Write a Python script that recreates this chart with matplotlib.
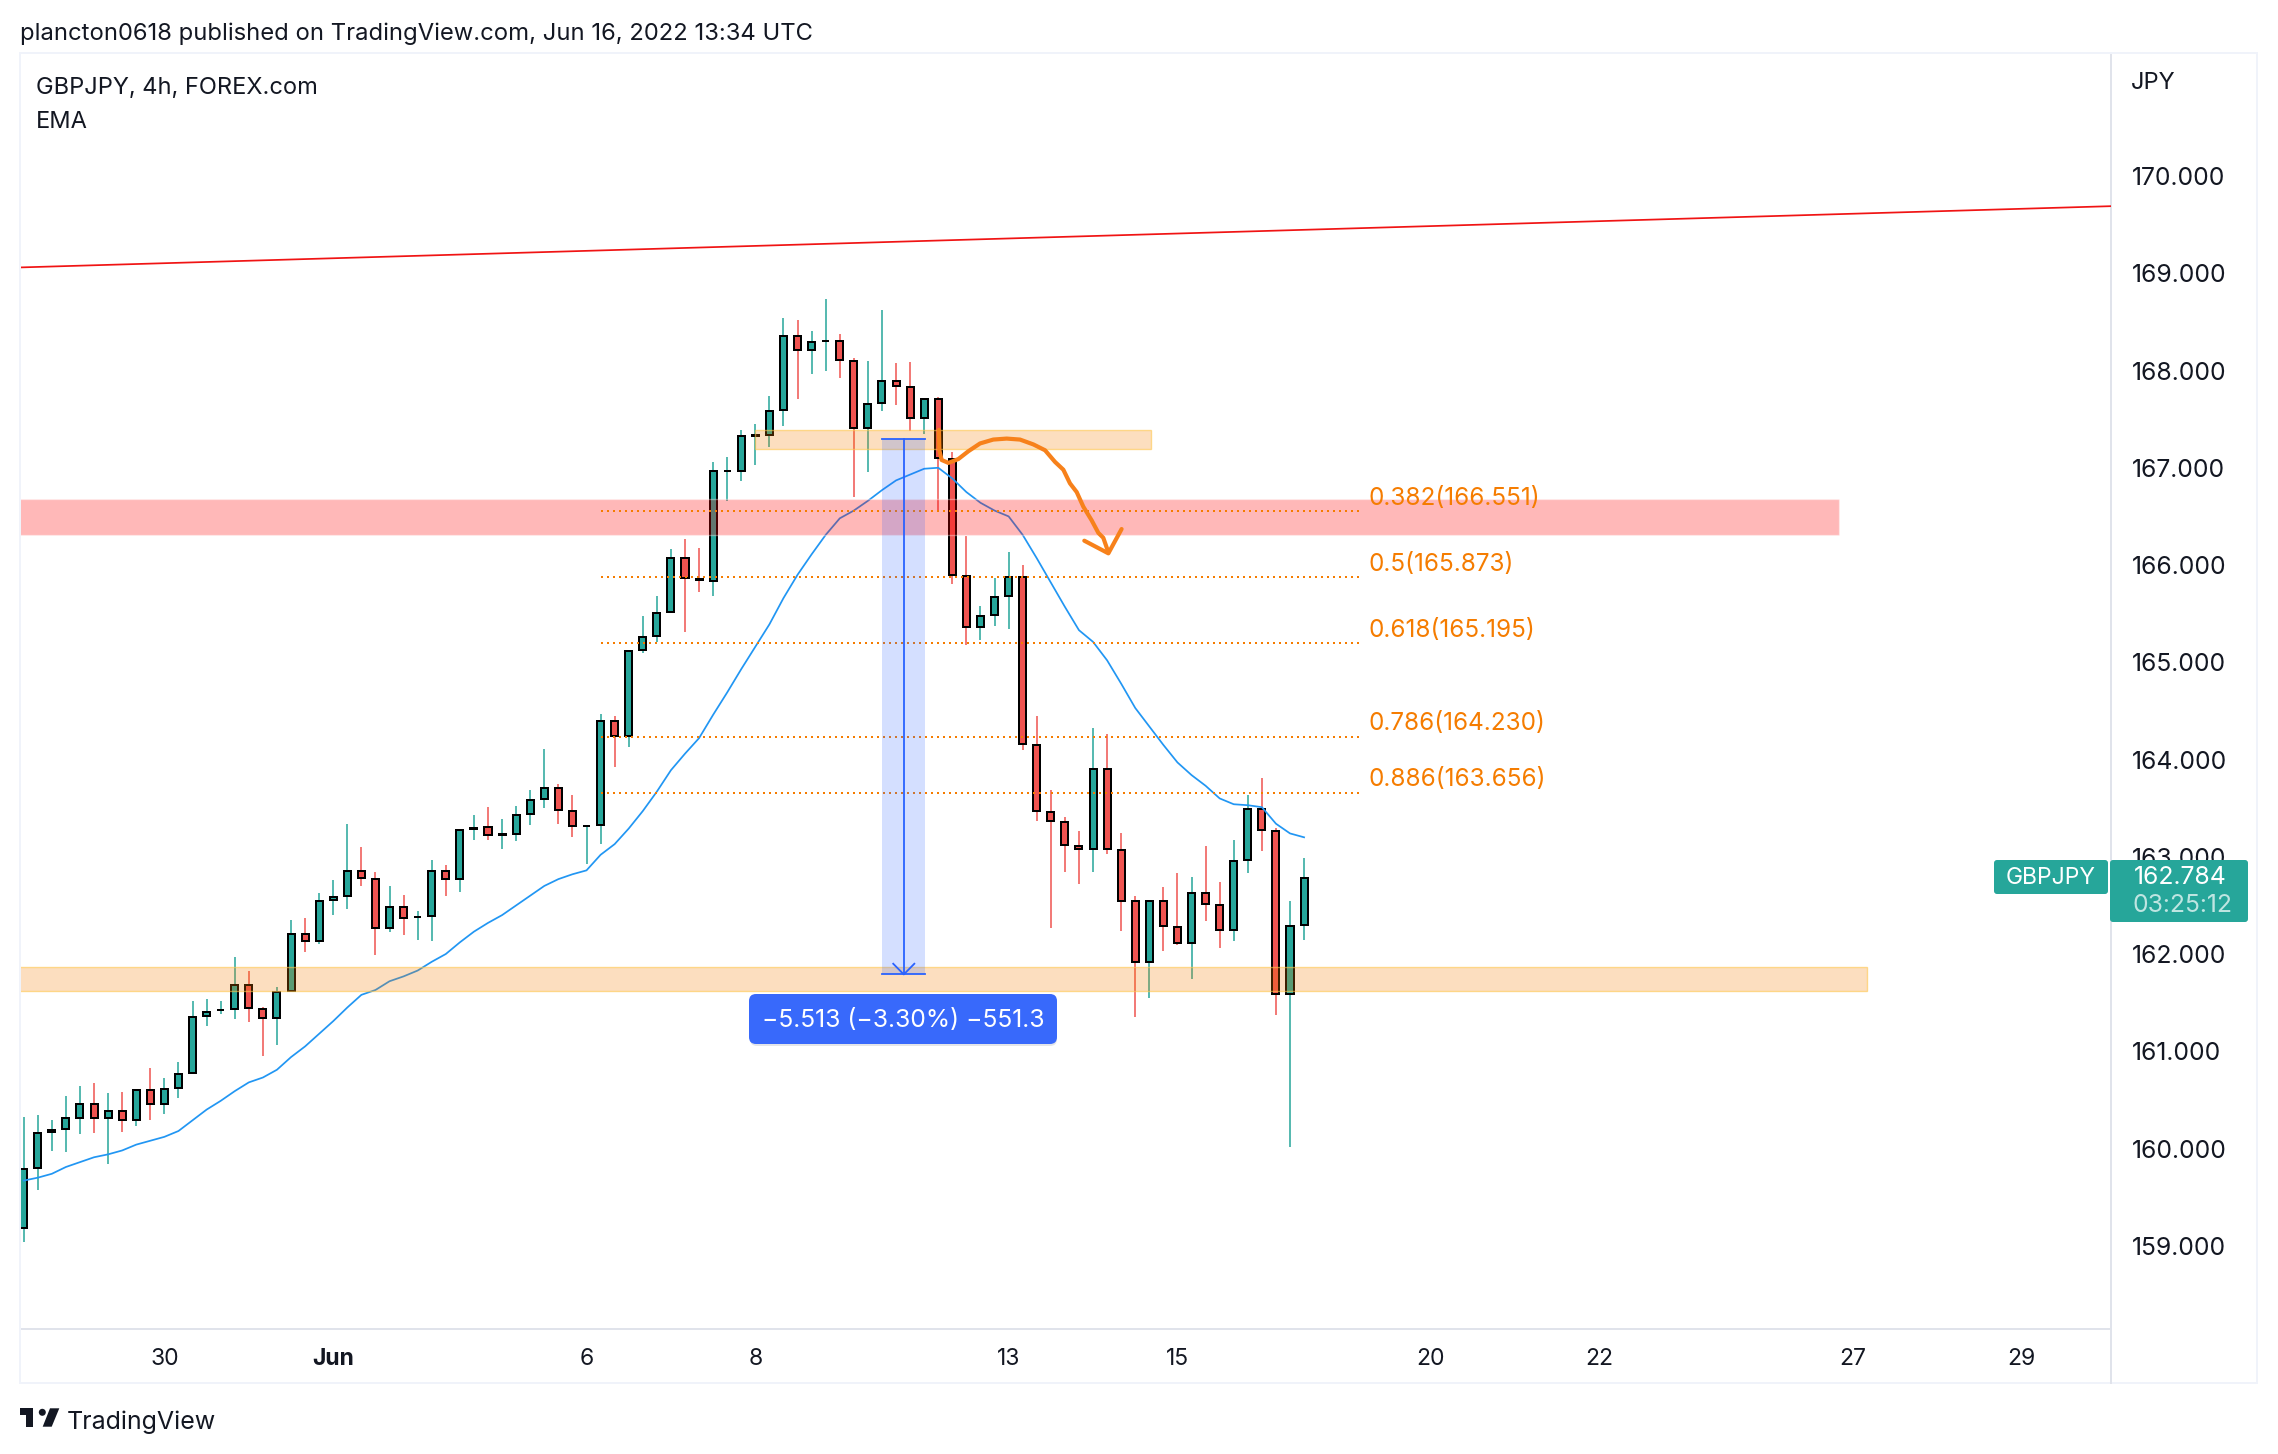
import matplotlib
matplotlib.use('Agg')
import matplotlib.pyplot as plt
from matplotlib.patches import Rectangle, FancyBboxPatch, Circle, Polygon
import numpy as np

plt.rcParams['font.family'] = ['Inter', 'DejaVu Sans']

### Data

opens = [159.18, 159.80, 160.17, 160.20, 160.31, 160.46, 160.31, 160.39, 160.29, 160.60,
         160.46, 160.62, 160.78, 161.36, 161.42, 161.43, 161.68, 161.43, 161.34, 161.62,
         162.21, 162.13, 162.56, 162.60, 162.85, 162.77, 162.27, 162.48, 162.38, 162.39,
         162.85, 162.77, 163.29, 163.31, 163.22, 163.23, 163.44, 163.59, 163.71, 163.47,
         163.32, 163.33, 164.40, 164.24, 165.13, 165.27, 165.52, 166.07, 165.86, 165.84,
         166.97, 166.97, 167.33, 167.34, 167.59, 168.36, 168.21, 168.30, 168.30, 168.10,
         167.41, 167.67, 167.89, 167.83, 167.51, 167.71, 167.09, 165.89, 165.36, 165.49,
         165.68, 165.88, 164.15, 163.46, 163.36, 163.11, 163.08, 163.90, 163.07, 162.54,
         161.92, 162.54, 162.28, 162.11, 162.63, 162.50, 162.25, 162.97, 163.49, 163.27,
         161.59, 162.30]
highs = [160.32, 160.34, 160.29, 160.54, 160.64, 160.67, 160.57, 160.58, 160.60, 160.83,
         160.72, 160.89, 161.52, 161.54, 161.52, 161.97, 161.83, 161.46, 161.66, 162.35,
         162.37, 162.63, 162.76, 163.34, 163.10, 162.84, 162.70, 162.61, 162.44, 162.97,
         162.92, 163.28, 163.43, 163.51, 163.39, 163.52, 163.69, 164.11, 163.75, 163.63,
         163.33, 164.47, 164.45, 165.12, 165.48, 165.68, 166.16, 166.27, 166.17, 167.06,
         167.11, 167.39, 167.45, 167.74, 168.54, 168.52, 168.41, 168.74, 168.38, 168.13,
         168.10, 168.62, 168.08, 168.09, 167.71, 167.73, 167.16, 166.30, 165.58, 165.87,
         166.13, 166.00, 164.45, 163.69, 163.41, 163.27, 164.32, 164.26, 163.24, 162.60,
         162.56, 162.69, 162.83, 162.79, 163.11, 162.74, 163.17, 163.63, 163.81, 163.30,
         162.54, 162.99]
lows = [159.04, 159.57, 159.97, 159.96, 160.15, 160.16, 159.84, 160.17, 160.23, 160.29,
        160.35, 160.52, 160.78, 161.26, 161.38, 161.33, 161.30, 160.95, 161.06, 161.62,
        162.02, 162.10, 162.40, 162.46, 162.70, 161.99, 162.23, 162.20, 162.14, 162.13,
        162.60, 162.64, 163.17, 163.17, 163.08, 163.16, 163.33, 163.50, 163.34, 163.20,
        162.93, 163.13, 163.92, 164.13, 165.10, 165.21, 165.52, 165.31, 165.72, 165.68,
        166.66, 166.86, 167.03, 167.21, 167.43, 167.71, 167.96, 168.00, 167.92, 166.70,
        166.96, 167.58, 167.65, 167.38, 167.35, 166.56, 165.80, 165.18, 165.23, 165.37,
        165.34, 164.10, 163.37, 162.27, 162.84, 162.72, 162.84, 163.03, 162.24, 161.35,
        161.55, 162.03, 162.09, 161.74, 162.34, 162.06, 162.13, 162.83, 163.06, 161.37,
        160.02, 162.14]
closes = [159.79, 160.16, 160.19, 160.31, 160.46, 160.31, 160.39, 160.29, 160.60, 160.46,
          160.61, 160.77, 161.35, 161.40, 161.42, 161.68, 161.44, 161.34, 161.61, 162.21,
          162.13, 162.55, 162.59, 162.85, 162.78, 162.27, 162.48, 162.37, 162.38, 162.85,
          162.77, 163.28, 163.30, 163.22, 163.23, 163.43, 163.58, 163.71, 163.48, 163.32,
          163.32, 164.40, 164.24, 165.12, 165.26, 165.51, 166.07, 165.87, 165.85, 166.97,
          166.97, 167.33, 167.34, 167.58, 168.36, 168.21, 168.29, 168.30, 168.11, 167.41,
          167.66, 167.89, 167.84, 167.51, 167.71, 167.10, 165.90, 165.36, 165.48, 165.67,
          165.88, 164.16, 163.47, 163.37, 163.12, 163.08, 163.90, 163.08, 162.55, 161.92,
          162.54, 162.29, 162.11, 162.63, 162.51, 162.25, 162.96, 163.49, 163.28, 161.59,
          162.29, 162.78]
ema = [159.67, 159.70, 159.74, 159.81, 159.86, 159.91, 159.94, 159.98, 160.04, 160.08,
       160.12, 160.18, 160.29, 160.40, 160.49, 160.59, 160.68, 160.73, 160.81, 160.94,
       161.05, 161.18, 161.31, 161.45, 161.58, 161.63, 161.72, 161.77, 161.83, 161.92,
       162.00, 162.12, 162.23, 162.32, 162.40, 162.50, 162.60, 162.70, 162.77, 162.82,
       162.86, 163.02, 163.13, 163.29, 163.47, 163.67, 163.89, 164.06, 164.22, 164.46,
       164.69, 164.93, 165.16, 165.39, 165.66, 165.90, 166.11, 166.31, 166.48, 166.56,
       166.66, 166.77, 166.87, 166.93, 166.99, 167.00, 166.89, 166.75, 166.64, 166.56,
       166.50, 166.31, 166.07, 165.82, 165.57, 165.33, 165.21, 165.02, 164.78, 164.53,
       164.34, 164.15, 163.97, 163.84, 163.73, 163.60, 163.54, 163.53, 163.51, 163.34,
       163.24, 163.20]

# hand drawn arrow, x in bars and y in price
brush_x = [65.05, 65.08, 65.24, 65.72, 66.43, 67.14, 67.97, 68.91, 69.86, 70.81, 71.76,
           72.59, 73.30, 73.89, 74.36, 74.84, 75.31, 75.90, 76.38, 76.73, 77.09]
brush_y = [167.39, 167.18, 167.08, 167.05, 167.09, 167.17, 167.25, 167.29, 167.30, 167.29,
           167.24, 167.18, 167.06, 166.98, 166.84, 166.75, 166.60, 166.46, 166.33, 166.28, 166.13]
brush_head_x = [75.38, 77.09, 78.03]
brush_head_y = [166.25, 166.12, 166.37]

fib_names = ['0.382', '0.5', '0.618', '0.786', '0.886']
fib_levels = [166.551, 165.873, 165.195, 164.230, 163.656]
fib_start = 41
fib_end = 95

trend_x = [-0.26, 148.35]
trend_y = [169.06, 169.69]

red_zone = (166.31, 166.68, 129.0)          # low, high, right end
low_zone = (161.62, 161.87, 131.0)
top_zone = (167.19, 167.39, 52.0, 80.1)     # low, high, left, right

range_left, range_right = 61.0, 64.05
range_mid = 62.55
range_top, range_bottom = 167.30, 161.79

price_ticks = [159, 160, 161, 162, 163, 164, 165, 166, 167, 168, 169, 170]
time_ticks = [10, 22, 40, 52, 70, 82, 100, 112, 130, 142]
time_labels = ['30', 'Jun', '6', '8', '13', '15', '20', '22', '27', '29']

### Colours

green = '#26a69a'
red = '#ef5350'
ink = '#131722'
divider = '#e0e3eb'
frame = '#f0f3fa'
fib_orange = '#f57c00'
brush_orange = '#f7811b'
blue = '#2962ff'

### Figure

fig = plt.figure(figsize=(22.78, 14.54), dpi=100, facecolor='white')
W, H = 2278.0, 1454.0
ax = fig.add_axes([20 / W, 1 - 1329 / H, (2111 - 20) / W, (1329 - 53) / H])
ax.set_xlim(-0.263, 148.35)
ax.set_ylim(158.144, 171.265)

# candles
x = np.arange(len(opens))
o = np.array(opens)
c = np.array(closes)
colors = [green if b >= a else red for a, b in zip(opens, closes)]
ax.vlines(x, lows, highs, colors=colors, linewidth=1.1, zorder=2)
ax.bar(x, np.abs(c - o), bottom=np.minimum(o, c), width=0.5, color=colors,
       edgecolor='black', linewidth=1.44, zorder=3)

ax.plot(x, ema, color='#2196f3', linewidth=1.25, zorder=4)
ax.plot(trend_x, trend_y, color='#f01414', linewidth=1.25, zorder=5)

# zones sit on top of the candles
ax.add_patch(Rectangle((-1, red_zone[0]), red_zone[2] + 1, red_zone[1] - red_zone[0],
                       facecolor=(1, 0, 0, 0.28), edgecolor=(1, 1, 1, 0.35), linewidth=1.0, zorder=5))
ax.add_patch(Rectangle((-1, low_zone[0]), low_zone[2] + 1, low_zone[1] - low_zone[0],
                       facecolor=(0.96, 0.49, 0, 0.25), edgecolor=(1.0, 0.78, 0.3, 0.6), linewidth=1.0, zorder=5))
ax.add_patch(Rectangle((top_zone[2], top_zone[0]), top_zone[3] - top_zone[2], top_zone[1] - top_zone[0],
                       facecolor=(0.96, 0.49, 0, 0.25), edgecolor=(1.0, 0.78, 0.3, 0.6), linewidth=1.0, zorder=5))

# fib levels
for name, level in zip(fib_names, fib_levels):
    ax.plot([fib_start, fib_end], [level, level], color=fib_orange, linewidth=1.44,
            linestyle=(0, (1, 2)), zorder=6)
    ax.annotate('%s(%.3f)' % (name, level), xy=(fib_end, level), xytext=(6, 9.5),
                textcoords='offset points', color=fib_orange, fontsize=17.5,
                va='center', ha='left', zorder=8)

# price range tool
ax.add_patch(Rectangle((range_left, range_bottom), range_right - range_left, range_top - range_bottom,
                       facecolor=(0.16, 0.38, 1, 0.2), edgecolor='none', zorder=6))
ax.plot([range_left, range_right], [range_top, range_top], color=blue, linewidth=1.3, zorder=7)
ax.plot([range_left, range_right], [range_bottom, range_bottom], color=blue, linewidth=1.3, zorder=7)
ax.plot([range_mid, range_mid], [range_bottom, range_top], color=blue, linewidth=1.3, zorder=7)
ax.plot([range_mid - 0.75, range_mid, range_mid + 0.75],
        [range_bottom + 0.11, range_bottom, range_bottom + 0.11], color=blue, linewidth=1.3, zorder=7)

# hand drawn arrow
ax.plot(brush_x, brush_y, color=brush_orange, linewidth=3.0, solid_capstyle='round',
        solid_joinstyle='round', zorder=9)
ax.plot(brush_head_x, brush_head_y, color=brush_orange, linewidth=3.0, solid_capstyle='round',
        solid_joinstyle='round', zorder=9)

# axes
for side in ['top', 'left']:
    ax.spines[side].set_visible(False)
for side in ['right', 'bottom']:
    ax.spines[side].set_color(divider)
    ax.spines[side].set_linewidth(1.44)

ax.yaxis.tick_right()
ax.set_yticks(price_ticks)
ax.set_yticklabels(['%.3f' % p for p in price_ticks], fontsize=17.8, color=ink)
ax.tick_params(axis='y', length=0, pad=15)
ax.set_xticks(time_ticks)
ax.set_xticklabels(time_labels, fontsize=16.5, color=ink)
ax.tick_params(axis='x', length=0, pad=14)
for lab in ax.get_xticklabels():
    if lab.get_text() == 'Jun':
        lab.set_fontweight('bold')

### Page furniture in pixel coordinates

page = fig.add_axes([0, 0, 1, 1], facecolor='none')
page.set_xlim(0, W)
page.set_ylim(H, 0)
page.axis('off')

page.add_patch(Rectangle((20, 53), 2237, 1330, fill=False, edgecolor=frame, linewidth=1.44))
page.plot([2111, 2111], [1329, 1383], color=divider, linewidth=1.44)

page.text(20, 33.5, 'plancton0618 published on TradingView.com, Jun 16, 2022 13:34 UTC',
          fontsize=17.15, color=ink, va='center', ha='left')
page.text(36, 88.5, 'GBPJPY, 4h, FOREX.com', fontsize=17, color=ink, va='center', ha='left')
page.text(36, 122, 'EMA', fontsize=17, color=ink, va='center', ha='left')
page.text(2131, 83, 'JPY', fontsize=17, color=ink, va='center', ha='left')

# last price tags
page.add_patch(FancyBboxPatch((1994, 860), 114, 34, boxstyle='round,pad=0,rounding_size=3',
                              facecolor=green, edgecolor='none'))
page.add_patch(FancyBboxPatch((2110, 860), 138, 62, boxstyle='round,pad=0,rounding_size=3',
                              facecolor=green, edgecolor='none'))
page.text(2051, 878, 'GBPJPY', fontsize=16.5, color='white', va='center', ha='center')
page.text(2180, 878, '162.784', fontsize=17.8, color='white', va='center', ha='center')
page.text(2182, 906, '03:25:12', fontsize=17.8, color='#bfe5e1', va='center', ha='center')

# measure label
page.add_patch(FancyBboxPatch((750, 996), 307, 50, boxstyle='round,pad=0,rounding_size=7',
                              facecolor='#c9ccd4', edgecolor='none', alpha=0.5))
page.add_patch(FancyBboxPatch((749, 994), 308, 50, boxstyle='round,pad=0,rounding_size=7',
                              facecolor='#3869fb', edgecolor='none'))
page.text(903, 1021, '\u22125.513 (\u22123.30%) \u2212551.3', fontsize=17.8, color='white',
          va='center', ha='center')

# TradingView logo
page.add_patch(Polygon([(20, 1408.3), (33.3, 1408.3), (33.3, 1426.7), (26, 1426.7), (26, 1415), (20, 1415)],
                       closed=True, facecolor=ink, edgecolor='none'))
page.add_patch(Circle((42.3, 1412.3), 3.5, facecolor=ink, edgecolor='none'))
page.add_patch(Polygon([(59.3, 1408.3), (51.7, 1426.7), (42.7, 1426.7), (50, 1408.3)],
                       closed=True, facecolor=ink, edgecolor='none'))
page.text(67, 1422.5, 'TradingView', fontsize=18, color=ink, va='center', ha='left')

fig.savefig('out.png', dpi=100, facecolor='white')
